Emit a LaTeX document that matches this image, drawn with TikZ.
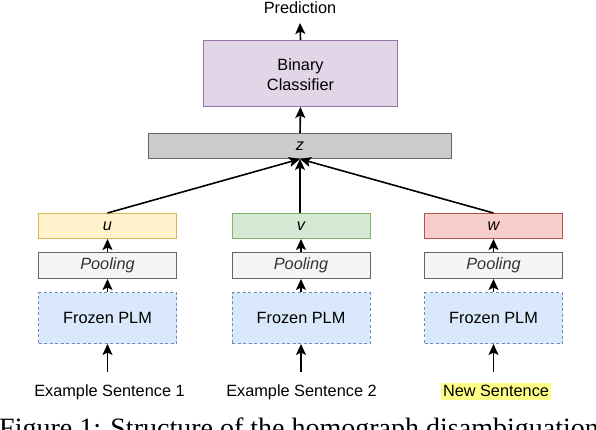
\documentclass[tikz,border=0pt]{standalone}
\usepackage{fontspec}
\setsansfont{Liberation Sans}
\setmainfont{Liberation Serif}
\usetikzlibrary{arrows.meta}
\definecolor{clsfill}{HTML}{E1D5E7}
\definecolor{clsdraw}{HTML}{9673A6}
\definecolor{zfill}{HTML}{CCCCCC}
\definecolor{zdraw}{HTML}{666666}
\definecolor{ufill}{HTML}{FFF2CC}
\definecolor{udraw}{HTML}{D6B656}
\definecolor{vfill}{HTML}{D5E8D4}
\definecolor{vdraw}{HTML}{82B366}
\definecolor{wfill}{HTML}{F8CECC}
\definecolor{wdraw}{HTML}{B85450}
\definecolor{poolfill}{HTML}{F5F5F5}
\definecolor{pooldraw}{HTML}{666666}
\definecolor{pooltext}{HTML}{333333}
\definecolor{plmfill}{HTML}{DAE8FC}
\definecolor{plmdraw}{HTML}{6C8EBF}
\definecolor{hl}{HTML}{FFFF88}
\begin{document}
\begin{tikzpicture}[x=1pt,y=-1pt,
  lbl/.style={font=\sffamily\fontsize{16.3}{20}\selectfont, text=black},
  box/.style={lbl, draw, line width=1pt, inner sep=0pt, align=center},
  vecbox/.style={box, minimum width=138pt, minimum height=25pt},
  poolbox/.style={box, fill=poolfill, draw=pooldraw, text=pooltext, minimum width=138pt, minimum height=26pt},
  plmbox/.style={box, fill=plmfill, draw=plmdraw, dashed, dash pattern=on 3pt off 2.5pt, minimum width=138pt, minimum height=51pt},
  sent/.style={lbl, text height=12.5pt, text depth=3.5pt, inner ysep=0.5pt, inner xsep=2pt},
  arr/.style={line width=1.6pt, -{Stealth[length=11pt,width=10pt,inset=2.5pt]}}]
\useasboundingbox (0,0) rectangle (596,430);

% top
\node[lbl, inner sep=0pt] (pred) at (300,8) {Prediction};
\node[box, fill=clsfill, draw=clsdraw, minimum width=194pt, minimum height=66pt] (cls) at (300.5,73.5) {\rule{0pt}{14pt}Binary\\[0pt]Classifier};
\node[box, fill=zfill, draw=zdraw, minimum width=303pt, minimum height=25pt] (z) at (300,146) {\itshape z};

% columns
\node[vecbox, fill=ufill, draw=udraw] (u) at (107.5,226) {\itshape u};
\node[vecbox, fill=vfill, draw=vdraw] (v) at (301,226) {\itshape v};
\node[vecbox, fill=wfill, draw=wdraw] (w) at (493.5,226) {\itshape w};

\node[poolbox] (p1) at (107.5,265.5) {\itshape Pooling};
\node[poolbox] (p2) at (301,265.5) {\itshape Pooling};
\node[poolbox] (p3) at (493.5,265.5) {\itshape Pooling};

\node[plmbox] (f1) at (107.5,318) {Frozen PLM};
\node[plmbox] (f2) at (301,318) {Frozen PLM};
\node[plmbox] (f3) at (493.5,318) {Frozen PLM};

\node[sent] (s1) at (109.5,391.5) {Example Sentence 1};
\node[sent] (s2) at (301.5,391.5) {Example Sentence 2};
\node[sent, fill=hl] (s3) at (496,391.5) {New Sentence};

% arrows
\draw[arr] (cls.north) -- (pred.south |- 0,23);
\draw[arr] (z.north) -- (cls.south);
\draw[arr] (u.north) -- (z.south);
\draw[arr] (v.north -| z.south) -- (z.south);
\draw[arr] (w.north) -- (z.south);
\foreach \i/\c in {1/u,2/v,3/w}{
  \draw[arr] (p\i.north) -- (\c.south);
  \draw[arr] (f\i.north) -- (p\i.south);
}
\coordinate (t1) at (107.5,372);
\coordinate (t2) at (301,372);
\coordinate (t3) at (493.5,372);
\draw[arr] (t1) -- (f1.south);
\draw[arr] (t2) -- (f2.south);
\draw[arr] (t3) -- (f3.south);

% caption (cut off by the frame, as in the reference)
\node[anchor=base west, inner sep=0pt, font=\rmfamily\fontsize{28}{32}\selectfont] (cap) at (-1,437.5) {Figure 1: Structure of the homograph disambiguation};
\end{tikzpicture}
\end{document}
